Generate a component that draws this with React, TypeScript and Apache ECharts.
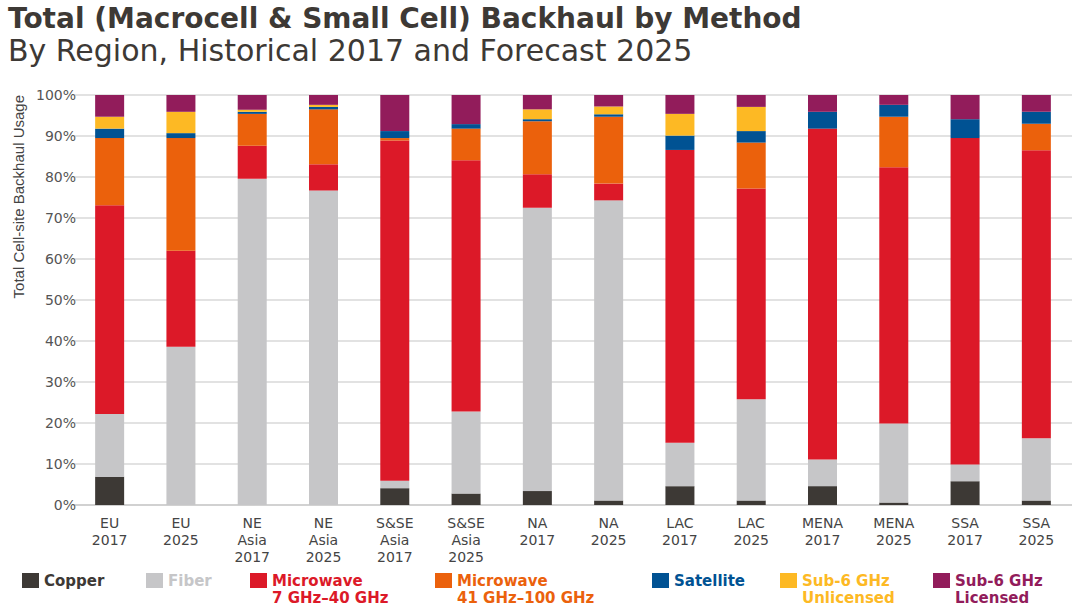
import React, { useEffect, useRef } from "react";
import * as echarts from "echarts";

const categories = [
  "EU\n2017", "EU\n2025", "NE\nAsia\n2017", "NE\nAsia\n2025", "S&SE\nAsia\n2017", "S&SE\nAsia\n2025",
  "NA\n2017", "NA\n2025", "LAC\n2017", "LAC\n2025", "MENA\n2017", "MENA\n2025", "SSA\n2017", "SSA\n2025",
];
const copper = [6.9, 0, 0, 0, 4.1, 2.8, 3.4, 1.1, 4.6, 1.1, 4.6, 0.6, 5.8, 1.1];
const fiber = [15.3, 38.6, 79.6, 76.7, 1.8, 20.0, 69.1, 73.2, 10.6, 24.7, 6.5, 19.3, 4.1, 15.2];
const microwave7 = [50.9, 23.4, 8.0, 6.4, 83.0, 61.3, 8.2, 4.1, 71.4, 51.4, 80.7, 62.5, 79.6, 70.2];
const microwave41 = [16.4, 27.5, 7.8, 13.4, 0.6, 7.7, 12.9, 16.3, 0, 11.2, 0, 12.3, 0, 6.5];
const satellite = [2.3, 1.2, 0.5, 0.6, 1.7, 1.1, 0.5, 0.6, 3.5, 2.8, 4.1, 2.9, 4.6, 2.9];
const sub6Unlicensed = [2.9, 5.2, 0.5, 0.5, 0, 0, 2.4, 1.9, 5.3, 5.9, 0, 0, 0, 0];
const sub6Licensed = [5.3, 4.1, 3.6, 2.4, 8.8, 7.1, 3.5, 2.8, 4.6, 2.9, 4.1, 2.4, 5.9, 4.1];

const seriesNames = [
  "Copper", "Fiber", "Microwave\n7 GHz–40 GHz", "Microwave\n41 GHz–100 GHz",
  "Satellite", "Sub-6 GHz\nUnlicensed", "Sub-6 GHz\nLicensed",
];
const seriesData = [copper, fiber, microwave7, microwave41, satellite, sub6Unlicensed, sub6Licensed];
const colors = ["#3d3935", "#c6c6c8", "#dc1928", "#eb610c", "#005293", "#fdb924", "#921c5b"];
const legendLeft = [22, 146, 250, 435, 652, 780, 933];

const FONT = "DejaVu Sans";

export default function App() {
  const ref = useRef<HTMLDivElement>(null);
  useEffect(() => {
    if (!ref.current) return;
    const chart = echarts.init(ref.current, null, { renderer: "svg" });
    const legends = seriesNames.map((name, i) => {
      const multi = name.includes("\n");
      return {
        left: legendLeft[i],
        top: multi ? 555 : 572,
        padding: 0,
        icon: "rect",
        itemWidth: 17,
        itemHeight: 15,
        itemGap: 7,
        selectedMode: false,
        data: [name],
        formatter: (n: string) => (n.includes("\n") ? " \n" + n : n),
        textStyle: {
          color: colors[i],
          fontFamily: FONT,
          fontWeight: "bold",
          fontSize: 15,
          lineHeight: 17,
        },
      };
    });
    chart.setOption({
      animation: false,
      backgroundColor: "#ffffff",
      title: {
        text: "Total (Macrocell & Small Cell) Backhaul by Method",
        subtext: "By Region, Historical 2017 and Forecast 2025",
        left: 8,
        top: 2,
        padding: 0,
        itemGap: 0,
        textStyle: { fontFamily: FONT, fontWeight: "bold", fontSize: 28, color: "#3d3935", lineHeight: 32 },
        subtextStyle: { fontFamily: FONT, fontWeight: "normal", fontSize: 30, color: "#3d3935", lineHeight: 32 },
      },
      legend: legends,
      grid: { left: 74, width: 1001, top: 95, height: 410 },
      xAxis: {
        type: "category",
        data: categories,
        axisLine: { lineStyle: { color: "#cccccc", width: 1.5 } },
        axisTick: { show: false },
        axisLabel: {
          interval: 0,
          fontFamily: FONT,
          fontSize: 14,
          lineHeight: 17,
          color: "#444444",
          margin: 9,
        },
      },
      yAxis: {
        type: "value",
        min: 0,
        max: 100,
        interval: 10,
        axisLine: { show: false },
        axisTick: { show: false },
        splitLine: { lineStyle: { color: "#d9d9d9", width: 1.5 } },
        axisLabel: {
          formatter: "{value}%",
          fontFamily: FONT,
          fontSize: 14,
          color: "#555555",
          margin: -2,
        },
      },
      graphic: [
        {
          type: "text",
          x: 18,
          y: 95,
          rotation: Math.PI / 2,
          style: {
            text: "Total Cell-site Backhaul Usage",
            fontFamily: "Liberation Sans",
            fontSize: 15,
            fill: "#444444",
            textAlign: "right",
            textVerticalAlign: "middle",
          },
        },
      ],
      series: seriesNames.map((name, i) => ({
        name,
        type: "bar",
        stack: "total",
        barWidth: 29,
        data: seriesData[i],
        itemStyle: { color: colors[i] },
      })),
    });
    return () => chart.dispose();
  }, []);
  return <div ref={ref} style={{ position: "fixed", left: 0, top: 0, width: 1072, height: 605 }} />;
}
